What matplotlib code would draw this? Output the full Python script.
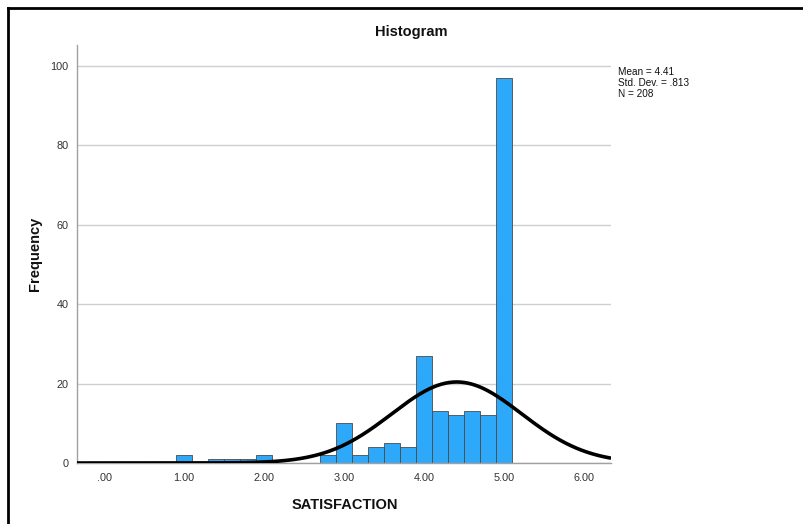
import numpy as np
import matplotlib
matplotlib.use("Agg")
import matplotlib.pyplot as plt
from matplotlib.lines import Line2D

plt.rcParams['font.family'] = ['Liberation Sans', 'DejaVu Sans']

# histogram bins (centres) and counts
bin_centers = [1.0, 1.4, 1.6, 1.8, 2.0, 2.8, 3.0, 3.2, 3.4, 3.6, 3.8, 4.0, 4.2, 4.4, 4.6, 4.8, 5.0]
counts = [2, 1, 1, 1, 2, 2, 10, 2, 4, 5, 4, 27, 13, 12, 13, 12, 97]
bin_width = 0.2

# summary statistics shown at the right
mean_val = 4.41
sd_val = 0.813
n_val = 208

x_ticks = [0, 1, 2, 3, 4, 5, 6]
x_labels = [".00", "1.00", "2.00", "3.00", "4.00", "5.00", "6.00"]
y_ticks = [0, 20, 40, 60, 80, 100]

fig = plt.figure(figsize=(8.04, 5.24), dpi=100)
ax = fig.add_axes([77/804, 1-463/524, (611-77)/804, (463-45)/524])

ax.set_axisbelow(True)
ax.yaxis.grid(True, color='#cfcfcf', linewidth=1.0)
ax.bar(bin_centers, counts, width=bin_width, color='#2ea9fa', edgecolor='#4a4a4a', linewidth=0.6, zorder=2)

# normal curve scaled to counts
xs = np.linspace(-0.34, 6.34, 400)
ys = n_val * bin_width * np.exp(-0.5*((xs-mean_val)/sd_val)**2) / (sd_val*np.sqrt(2*np.pi))
ax.plot(xs, ys, color='black', linewidth=2.6, zorder=3, solid_capstyle='butt')

ax.set_xlim(-0.34, 6.34)
ax.set_ylim(0, 105.3)
ax.set_xticks(x_ticks)
ax.set_xticklabels(x_labels)
ax.set_yticks(y_ticks)
ax.tick_params(axis='both', length=0, labelsize=7.8, colors='#333333')
ax.tick_params(axis='x', pad=7)
ax.tick_params(axis='y', pad=6)

for s in ['top', 'right']:
    ax.spines[s].set_visible(False)
for s in ['left', 'bottom']:
    ax.spines[s].set_color('#a0a0a0')
    ax.spines[s].set_linewidth(1.0)

fig.text(411/804, 1-32/524, "Histogram", ha='center', va='center', fontsize=10.5, fontweight='bold', color='#111111')
fig.text(35/804, 1-254/524, "Frequency", ha='center', va='center', rotation=90, fontsize=10.5, fontweight='bold', color='#111111')
fig.text(345/804, 1-505/524, "SATISFACTION", ha='center', va='center', fontsize=10.5, fontweight='bold', color='#111111')

stats_txt = "Mean = {:.2f}\nStd. Dev. = {}\nN = {}".format(mean_val, ("%.3f" % sd_val).lstrip('0'), n_val)
fig.text(618/804, 1-67/524, stats_txt, ha='left', va='top', fontsize=7.2, color='#111111', linespacing=1.1)

# black frame at top and left edges of the screenshot
fig.add_artist(Line2D([8/804, 1], [1-8/524, 1-8/524], color='black', linewidth=2.0, transform=fig.transFigure))
fig.add_artist(Line2D([8/804, 8/804], [0, 1-8/524], color='black', linewidth=2.0, transform=fig.transFigure))

fig.savefig("out.png", dpi=100)
